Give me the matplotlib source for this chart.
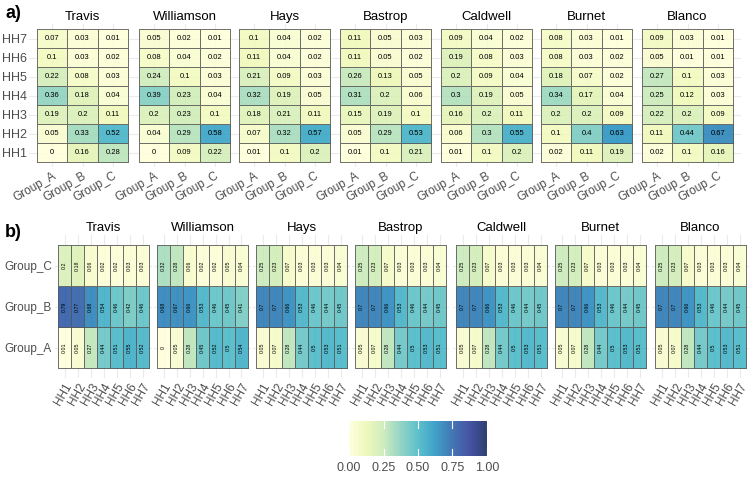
import numpy as np
import matplotlib
matplotlib.use("Agg")
import matplotlib.pyplot as plt
from matplotlib.colors import Normalize

plt.rcParams['font.family'] = ['Liberation Sans', 'DejaVu Sans']

counties = ["Travis", "Williamson", "Hays", "Bastrop", "Caldwell", "Burnet", "Blanco"]
groups = ["Group_A", "Group_B", "Group_C"]
hh = ["HH1", "HH2", "HH3", "HH4", "HH5", "HH6", "HH7"]

# Panel a: rows HH1..HH7, columns Group_A, Group_B, Group_C
travis_a = [[0, 0.16, 0.28], [0.05, 0.33, 0.52], [0.19, 0.2, 0.11], [0.36, 0.18, 0.04],
            [0.22, 0.08, 0.03], [0.1, 0.03, 0.02], [0.07, 0.03, 0.01]]
williamson_a = [[0, 0.09, 0.22], [0.04, 0.29, 0.58], [0.2, 0.23, 0.1], [0.39, 0.23, 0.04],
                [0.24, 0.1, 0.03], [0.08, 0.04, 0.02], [0.05, 0.02, 0.01]]
hays_a = [[0.01, 0.1, 0.2], [0.07, 0.32, 0.57], [0.18, 0.21, 0.11], [0.32, 0.19, 0.05],
          [0.21, 0.09, 0.03], [0.11, 0.04, 0.02], [0.1, 0.04, 0.02]]
bastrop_a = [[0.01, 0.1, 0.21], [0.05, 0.29, 0.53], [0.15, 0.19, 0.1], [0.31, 0.2, 0.06],
             [0.26, 0.13, 0.05], [0.11, 0.05, 0.02], [0.11, 0.05, 0.03]]
caldwell_a = [[0.01, 0.1, 0.2], [0.06, 0.3, 0.55], [0.16, 0.2, 0.11], [0.3, 0.19, 0.05],
              [0.2, 0.09, 0.04], [0.19, 0.08, 0.03], [0.09, 0.04, 0.02]]
burnet_a = [[0.02, 0.11, 0.19], [0.1, 0.4, 0.63], [0.2, 0.2, 0.09], [0.34, 0.17, 0.04],
            [0.18, 0.07, 0.02], [0.08, 0.03, 0.02], [0.08, 0.03, 0.01]]
blanco_a = [[0.02, 0.1, 0.16], [0.11, 0.44, 0.67], [0.22, 0.2, 0.09], [0.25, 0.12, 0.03],
            [0.27, 0.1, 0.03], [0.05, 0.01, 0.01], [0.09, 0.03, 0.01]]
panel_a = [travis_a, williamson_a, hays_a, bastrop_a, caldwell_a, burnet_a, blanco_a]

# Panel b: per county, values for HH1..HH7
b_group_C = [[0.2, 0.18, 0.06, 0.02, 0.02, 0.03, 0.03],
             [0.32, 0.28, 0.06, 0.02, 0.02, 0.05, 0.04],
             [0.25, 0.23, 0.07, 0.03, 0.03, 0.03, 0.04],
             [0.25, 0.23, 0.07, 0.03, 0.03, 0.03, 0.04],
             [0.25, 0.23, 0.07, 0.03, 0.03, 0.03, 0.04],
             [0.25, 0.23, 0.07, 0.03, 0.03, 0.03, 0.04],
             [0.25, 0.23, 0.07, 0.03, 0.03, 0.03, 0.04]]
b_group_B = [[0.79, 0.77, 0.68, 0.54, 0.46, 0.42, 0.46],
             [0.68, 0.67, 0.66, 0.53, 0.46, 0.45, 0.41],
             [0.7, 0.7, 0.66, 0.53, 0.46, 0.44, 0.45],
             [0.7, 0.7, 0.66, 0.53, 0.46, 0.44, 0.45],
             [0.7, 0.7, 0.66, 0.53, 0.46, 0.44, 0.45],
             [0.7, 0.7, 0.66, 0.53, 0.46, 0.44, 0.45],
             [0.7, 0.7, 0.66, 0.53, 0.46, 0.44, 0.45]]
b_group_A = [[0.01, 0.05, 0.27, 0.44, 0.51, 0.55, 0.52],
             [0, 0.05, 0.28, 0.45, 0.52, 0.5, 0.54],
             [0.05, 0.07, 0.28, 0.44, 0.5, 0.53, 0.51],
             [0.05, 0.07, 0.28, 0.44, 0.5, 0.53, 0.51],
             [0.05, 0.07, 0.28, 0.44, 0.5, 0.53, 0.51],
             [0.05, 0.07, 0.28, 0.44, 0.5, 0.53, 0.51],
             [0.05, 0.07, 0.28, 0.44, 0.5, 0.53, 0.51]]

cbar_ticks = [0.0, 0.25, 0.5, 0.75, 1.0]
cbar_labels = ["0.00", "0.25", "0.50", "0.75", "1.00"]

W, H = 750, 480
fig = plt.figure(figsize=(7.5, 4.8), dpi=100)
cmap = plt.get_cmap("YlGnBu")
norm = Normalize(0, 1)
grid_col = "#ebebeb"
lab_col = "#4d4d4d"
EXP = 0.25


def fmt(v):
    return f"{round(v, 2):g}"


def add_axes_px(x0, y0, w, h, ncol, nrow):
    cw, ch = w / ncol, h / nrow
    left = x0 - EXP * cw
    top = y0 - EXP * ch
    ww = w + 2 * EXP * cw
    hh_ = h + 2 * EXP * ch
    ax = fig.add_axes([left / W, (H - top - hh_) / H, ww / W, hh_ / H])
    ax.set_xlim(-0.5 - EXP, ncol - 0.5 + EXP)
    ax.set_ylim(-0.5 - EXP, nrow - 0.5 + EXP)
    for s in ax.spines.values():
        s.set_visible(False)
    ax.set_axisbelow(True)
    ax.grid(True, color=grid_col, linewidth=0.8)
    ax.tick_params(length=0, colors=lab_col, pad=2)
    return ax


# Panel a
ax_x0 = [37, 139, 239, 340, 441, 541, 642]
for i, (name, data) in enumerate(zip(counties, panel_a)):
    arr = np.array(data, dtype=float)
    ax = add_axes_px(ax_x0[i], 29, 91, 133, 3, 7)
    xe = np.arange(4) - 0.5
    ye = np.arange(8) - 0.5
    ax.pcolormesh(xe, ye, arr, cmap=cmap, norm=norm, edgecolors="#5a5a5a",
                  linewidth=0.5, alpha=0.85)
    for r in range(7):
        for c in range(3):
            ax.text(c, r, fmt(arr[r, c]), ha="center", va="center", fontsize=5.5, color="black")
    ax.set_xticks(range(3))
    ax.set_xticklabels(groups, rotation=30, ha="right", rotation_mode="anchor", fontsize=8.5)
    ax.set_yticks(range(7))
    if i == 0:
        ax.set_yticklabels(hh, fontsize=9)
    else:
        ax.set_yticklabels([])
    ax.set_title(name, fontsize=9.5, pad=3)

# Panel b
bx0 = [58, 157, 256, 355, 456, 555, 655]
for i, name in enumerate(counties):
    arr = np.array([b_group_A[i], b_group_B[i], b_group_C[i]], dtype=float)
    ax = add_axes_px(bx0[i], 245, 91, 123, 7, 3)
    xe = np.arange(8) - 0.5
    ye = np.arange(4) - 0.5
    ax.pcolormesh(xe, ye, arr, cmap=cmap, norm=norm, edgecolors="#5a5a5a",
                  linewidth=0.5, alpha=0.85)
    for r in range(3):
        for c in range(7):
            ax.text(c, r, fmt(arr[r, c]), ha="center", va="center", fontsize=3.8,
                    rotation=90, color="black")
    ax.set_xticks(range(7))
    ax.set_xticklabels(hh, rotation=60, ha="right", rotation_mode="anchor", fontsize=8.5)
    ax.set_yticks(range(3))
    if i == 0:
        ax.set_yticklabels(groups, fontsize=8.5)
    else:
        ax.set_yticklabels([])
    ax.set_title(name, fontsize=9.5, pad=3)

fig.text(5 / W, 1 - 14 / H, "a)", fontsize=13, fontweight="bold", va="center")
fig.text(5 / W, 1 - 232 / H, "b)", fontsize=13, fontweight="bold", va="center")

# Colorbar
cax = fig.add_axes([338 / W, (H - 456) / H, 160 / W, 35 / H])
grad = np.linspace(0, 1, 256).reshape(1, -1)
cax.imshow(grad, cmap=cmap, norm=norm, aspect="auto", extent=[0, 1, 0, 1], alpha=0.85)
for t in cbar_ticks:
    cax.plot([t, t], [0, 0.2], color="white", lw=0.8)
    cax.plot([t, t], [0.8, 1], color="white", lw=0.8)
cax.set_xlim(-0.08, 1.08)
cax.set_ylim(0, 1)
cax.set_yticks([])
cax.set_xticks(cbar_ticks)
cax.set_xticklabels(cbar_labels, fontsize=9, color=lab_col)
cax.tick_params(length=0, pad=4)
for s in cax.spines.values():
    s.set_visible(False)

fig.savefig("out.png", dpi=100)
